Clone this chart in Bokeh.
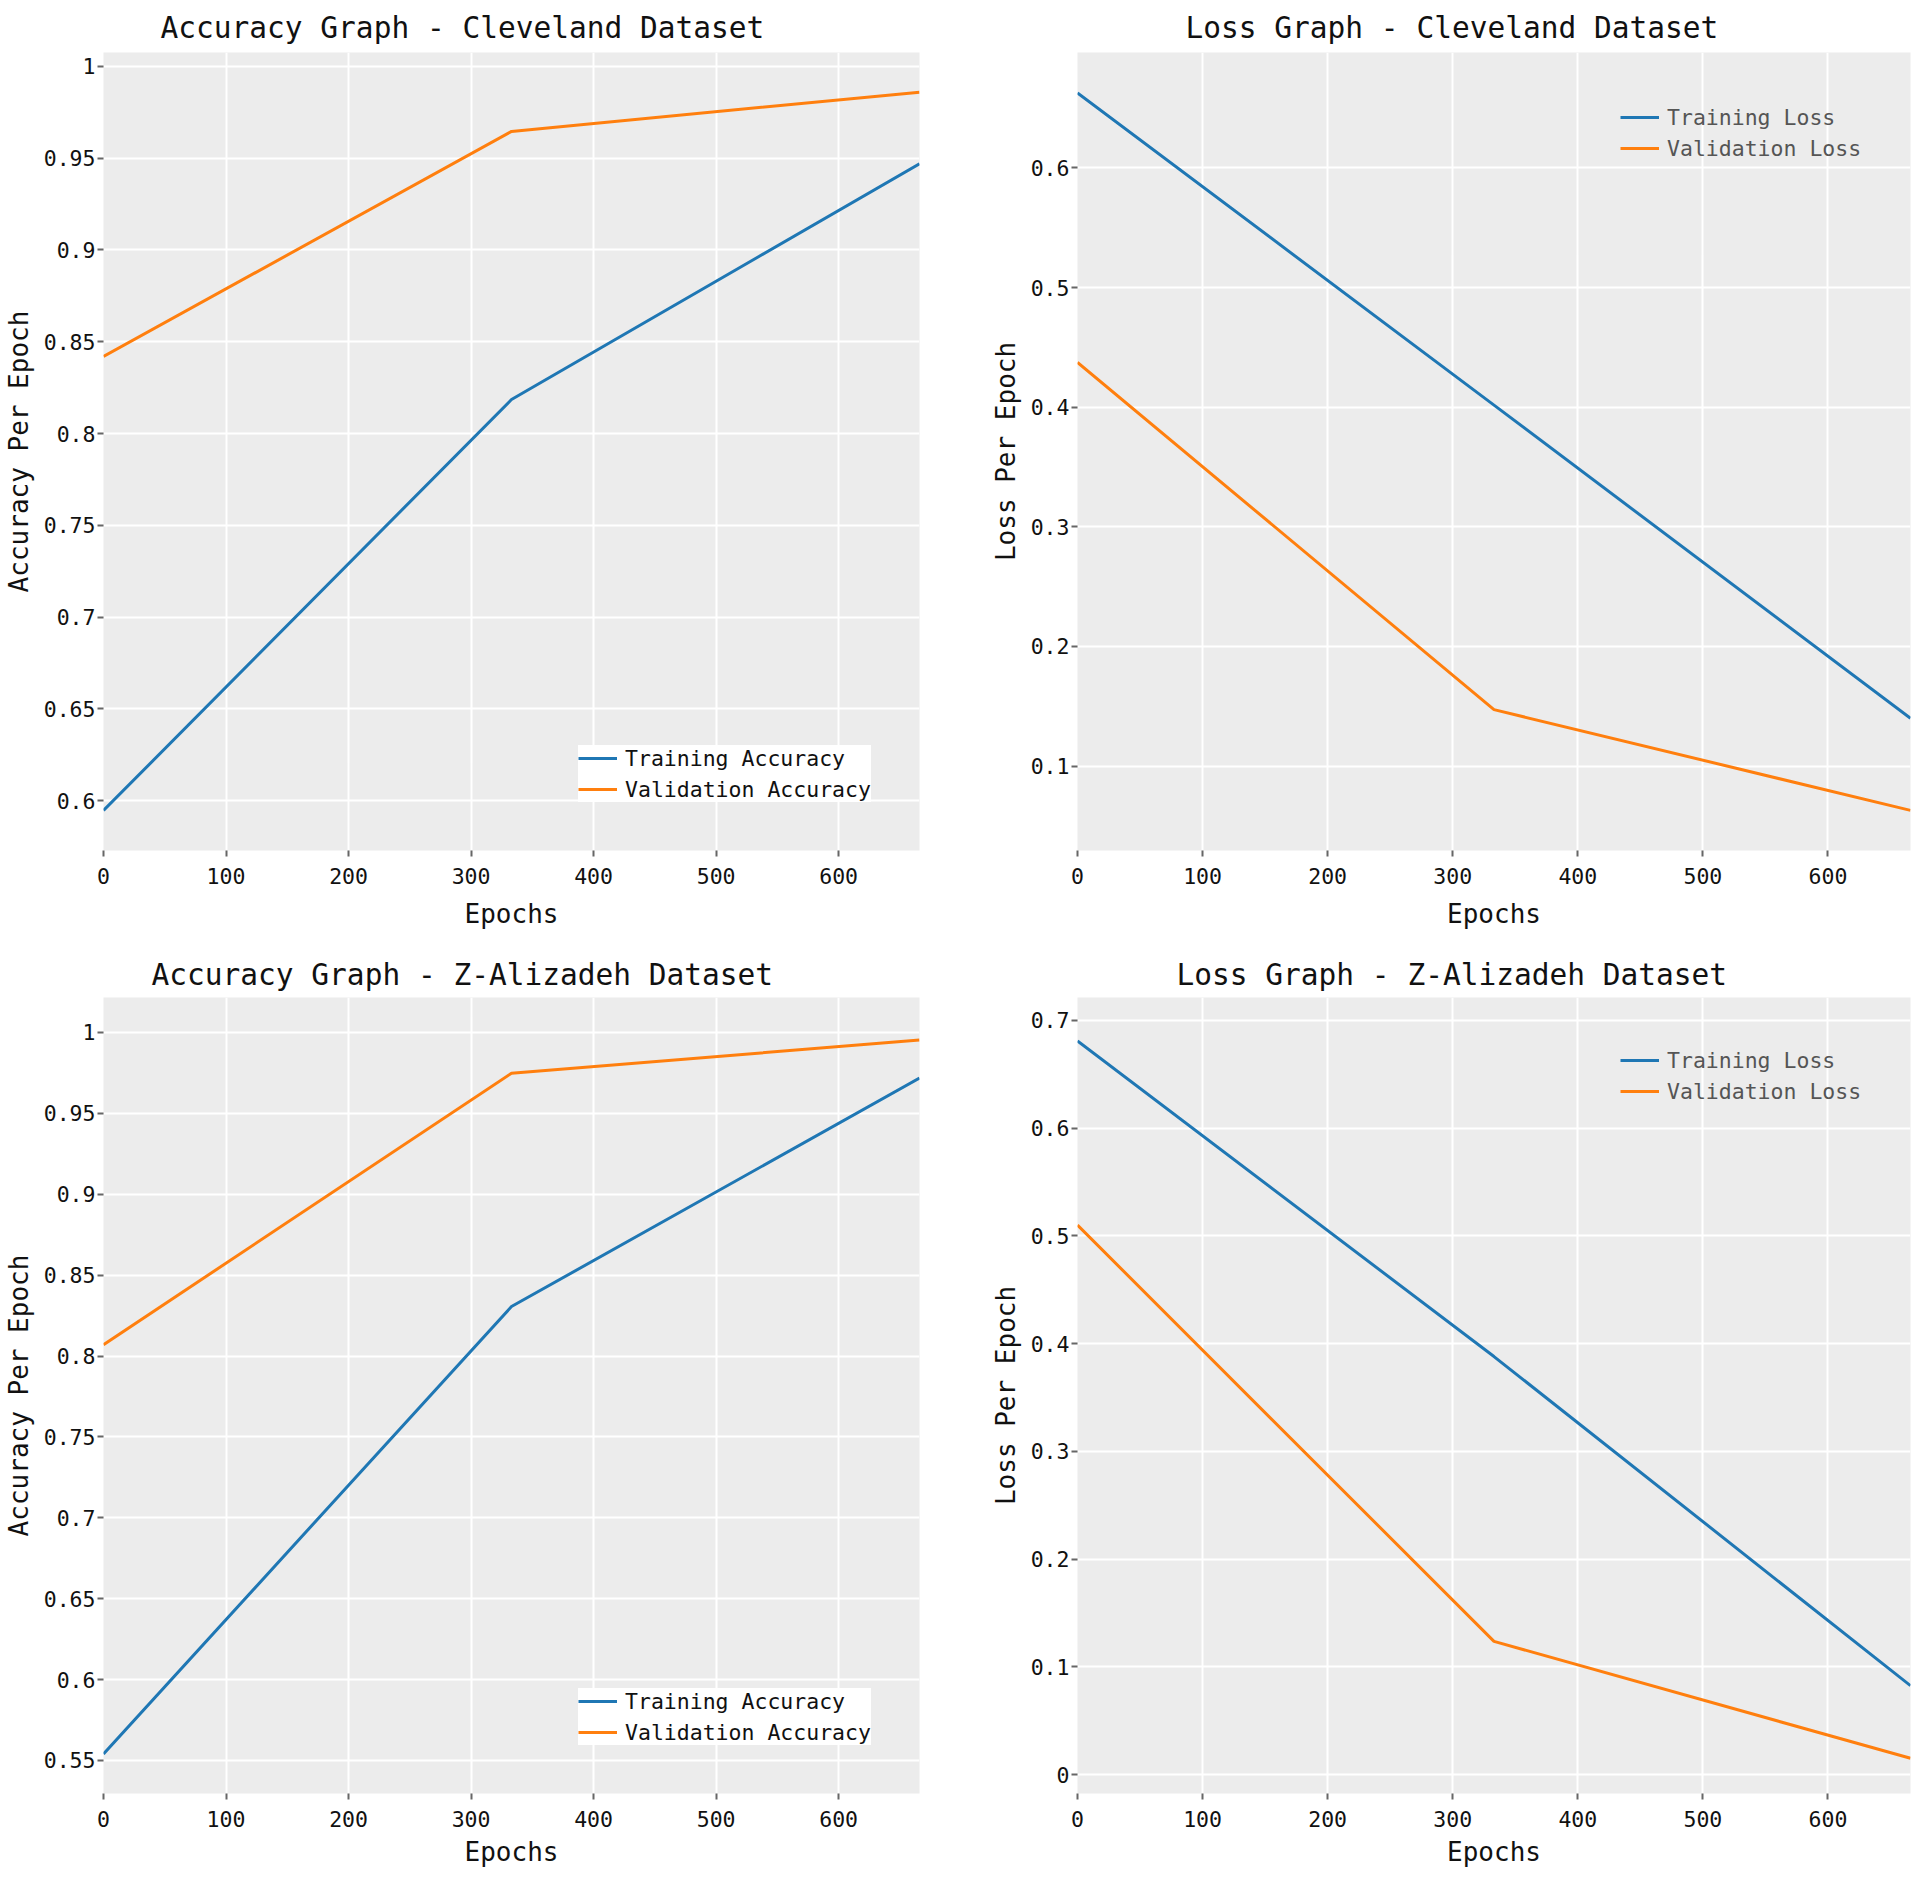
from bokeh.plotting import figure
from bokeh.layouts import row, column
from bokeh.models import Range1d, FixedTicker, Legend, LegendItem, Title, PrintfTickFormatter
from bokeh.embed import file_html
from bokeh.resources import INLINE

# ---------------- data ----------------
epochs = [0, 333, 666]

cle_train_acc = [0.5946, 0.8185, 0.947]
cle_val_acc = [0.842, 0.9646, 0.986]
cle_train_loss = [0.6626, 0.4017, 0.140]
cle_val_loss = [0.4374, 0.1472, 0.063]

za_train_acc = [0.554, 0.8306, 0.9718]
za_val_acc = [0.807, 0.9748, 0.9953]
za_train_loss = [0.681, 0.388, 0.0825]
za_val_loss = [0.510, 0.1236, 0.0151]

x_ticks = [0, 100, 200, 300, 400, 500, 600]
acc_cle_ticks = [0.6, 0.65, 0.7, 0.75, 0.8, 0.85, 0.9, 0.95, 1.0]
loss_cle_ticks = [0.1, 0.2, 0.3, 0.4, 0.5, 0.6]
acc_za_ticks = [0.55, 0.6, 0.65, 0.7, 0.75, 0.8, 0.85, 0.9, 0.95, 1.0]
loss_za_ticks = [0.0, 0.1, 0.2, 0.3, 0.4, 0.5, 0.6, 0.7]

titles = ["Accuracy Graph - Cleveland Dataset", "Loss Graph - Cleveland Dataset",
          "Accuracy Graph - Z-Alizadeh Dataset", "Loss Graph - Z-Alizadeh Dataset"]
acc_names = ["Training Accuracy", "Validation Accuracy"]
loss_names = ["Training Loss", "Validation Loss"]

FONT = "DejaVu Sans Mono"
BLUE = "#1f77b4"
ORANGE = "#ff7f0e"


def make(title, toff, tstand, ylabel, ticks, yr, train, val, names, loss,
         w, h, bl, br, bt, bb, xlab_standoff, leg_loc):
    p = figure(width=w, height=h, output_backend="svg", toolbar_location=None,
               x_range=Range1d(0, 666), y_range=Range1d(yr[0], yr[1]),
               min_border_left=bl, min_border_right=br, min_border_top=bt, min_border_bottom=bb)
    p.title = Title(text=title, align="left", offset=toff, standoff=tstand, text_font=FONT,
                    text_font_size="29.5px", text_font_style="normal", text_color="#111111")
    p.background_fill_color = "#ececec"
    p.border_fill_color = "white"
    p.outline_line_color = None

    p.xaxis.ticker = FixedTicker(ticks=x_ticks)
    p.yaxis.ticker = FixedTicker(ticks=ticks)
    p.yaxis.formatter = PrintfTickFormatter(format="%g")
    for ax in (p.xaxis, p.yaxis):
        ax.axis_line_color = None
        ax.major_tick_line_color = "#666666"
        ax.major_tick_line_width = 2
        ax.major_tick_out = 6
        ax.major_tick_in = 0
        ax.minor_tick_line_color = None
        ax.major_label_text_font = FONT
        ax.major_label_text_font_size = "21.5px"
        ax.major_label_text_color = "#111111"
        ax.axis_label_text_font = FONT
        ax.axis_label_text_font_size = "26px"
        ax.axis_label_text_font_style = "normal"
        ax.axis_label_text_color = "#111111"
    p.xaxis.major_label_standoff = 11
    p.xaxis.axis_label_standoff = xlab_standoff
    p.yaxis.major_label_standoff = 2
    p.yaxis.axis_label_standoff = 7
    p.xaxis.axis_label = "Epochs"
    p.yaxis.axis_label = ylabel

    p.xgrid.grid_line_color = "white"
    p.ygrid.grid_line_color = "white"
    p.xgrid.grid_line_width = 2
    p.ygrid.grid_line_width = 2

    r1 = p.line(epochs, train, line_color=BLUE, line_width=3)
    r2 = p.line(epochs, val, line_color=ORANGE, line_width=3)

    leg = Legend(items=[LegendItem(label=names[0], renderers=[r1]),
                        LegendItem(label=names[1], renderers=[r2])],
                 location=leg_loc, margin=0, padding=10, spacing=5,
                 glyph_width=39, glyph_height=26, label_height=26, label_standoff=8,
                 label_text_font=FONT, label_text_font_size="21.5px",
                 label_text_color="#555555" if loss else "#111111",
                 background_fill_color="white",
                 background_fill_alpha=0.0 if loss else 1.0,
                 border_line_color=None)
    p.add_layout(leg)
    return p


p1 = make(titles[0], 57, 16, "Accuracy Per Epoch", acc_cle_ticks, (0.5728, 1.0076),
          cle_train_acc, cle_val_acc, acc_names, False, 977, 949, 98, 58, 51, 99, 12, (475, 48))
p2 = make(titles[1], 108, 16, "Loss Per Epoch", loss_cle_ticks, (0.0295, 0.6964),
          cle_train_loss, cle_val_loss, loss_names, True, 935, 949, 100, 2, 51, 99, 12, (543, 689))
p3 = make(titles[2], 48, 12, "Accuracy Per Epoch", acc_za_ticks, (0.5296, 1.0216),
          za_train_acc, za_val_acc, acc_names, False, 977, 924, 98, 58, 47, 80, 7, (475, 48))
p4 = make(titles[3], 99, 12, "Loss Per Epoch", loss_za_ticks, (-0.0176, 0.7213),
          za_train_loss, za_val_loss, loss_names, True, 935, 924, 100, 2, 47, 80, 7, (543, 689))

layout = column(row(p1, p2), row(p3, p4))
open("out.html", "w").write(file_html(layout, INLINE))
